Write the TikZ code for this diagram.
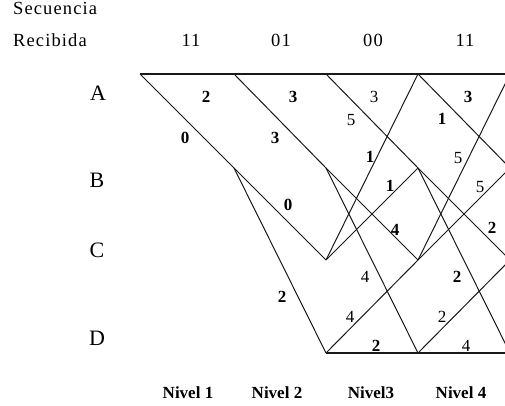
\documentclass[tikz,border=0pt]{standalone}
\usepackage{fontspec}
\setmainfont{Liberation Serif}
\newfontfamily\spacedfont[LetterSpace=6]{Liberation Serif}
\begin{document}
\begin{tikzpicture}[x=1pt,y=-1pt,
  edge/.style={draw=black!90, line width=1pt},
  hline/.style={draw=black!90, line width=1.4pt},
  wb/.style={font=\fontsize{17}{17}\selectfont\bfseries, inner sep=0pt},
  wr/.style={font=\fontsize{17}{17}\selectfont, inner sep=0pt},
  statelbl/.style={font=\fontsize{22}{22}\selectfont, inner sep=0pt},
  seq/.style={font=\spacedfont\fontsize{18.5}{18.5}\selectfont, inner sep=0pt, anchor=base},
  nivel/.style={font=\fontsize{17}{17}\selectfont\bfseries, inner sep=0pt}]
\useasboundingbox (0,0) rectangle (505,406);
\foreach \i/\x in {1/140,2/234,3/326,4/418,5/510} {
  \coordinate (A\i) at (\x,74);
  \coordinate (B\i) at (\x,168);
  \coordinate (C\i) at (\x,260);
  \coordinate (D\i) at (\x,353);
}
\begin{scope}
\clip (0,0) rectangle (505,406);
\draw[hline] (A1) -- (A2) -- (A3) -- (A4) -- (A5);
\draw[hline] (D3) -- (D4) -- (D5);
\draw[edge] (A1) -- (B2);
\draw[edge] (A2) -- (B3);
\draw[edge] (B2) -- (C3);
\draw[edge] (B2) -- (D3);
\foreach \i/\j in {3/4,4/5} {
  \draw[edge] (A\i) -- (B\j);
  \draw[edge] (B\i) -- (C\j);
  \draw[edge] (B\i) -- (D\j);
  \draw[edge] (C\i) -- (A\j);
  \draw[edge] (C\i) -- (B\j);
  \draw[edge] (D\i) -- (C\j);
}
\end{scope}
% header
\node[seq, anchor=base west] (t1) at (13,15) {Secuencia};
\node[seq, anchor=base west] (t2) at (13,47) {Recibida};
\node[seq] (s1) at (191,47) {11};
\node[seq] (s2) at (281,47) {01};
\node[seq] (s3) at (373,47) {00};
\node[seq] (s4) at (465,47) {11};
% state labels
\node[statelbl] (lA) at (98,93) {A};
\node[statelbl] (lB) at (97,180) {B};
\node[statelbl] (lC) at (97,250) {C};
\node[statelbl] (lD) at (97,338) {D};
% edge labels level 1-2
\node[wb] (e1) at (206,97) {2};
\node[wb] (e2) at (185,138) {0};
\node[wb] (e3) at (293,97) {3};
\node[wb] (e4) at (275,138) {3};
\node[wb] (e5) at (288,205) {0};
\node[wb] (e6) at (282,297) {2};
% level 3
\node[wr] (e7) at (374,97) {3};
\node[wr] (e8) at (351,120) {5};
\node[wb] (e9) at (370,157) {1};
\node[wb] (e10) at (390,186) {1};
\node[wb] (e11) at (395,230) {4};
\node[wr] (e12) at (365,277) {4};
\node[wr] (e13) at (350,317) {4};
\node[wb] (e14) at (376,346) {2};
% level 4
\node[wb] (e15) at (468,97) {3};
\node[wb] (e16) at (442,119) {1};
\node[wr] (e17) at (458,158) {5};
\node[wr] (e18) at (480,187) {5};
\node[wb] (e19) at (492,228) {2};
\node[wb] (e20) at (457,277) {2};
\node[wr] (e21) at (442,317) {2};
\node[wr] (e22) at (466,346) {4};
% level names
\node[nivel] (n1) at (188,393) {Nivel 1};
\node[nivel] (n2) at (277,393) {Nivel 2};
\node[nivel] (n3) at (371,393) {Nivel3};
\node[nivel] (n4) at (461,393) {Nivel 4};
\end{tikzpicture}
\end{document}
